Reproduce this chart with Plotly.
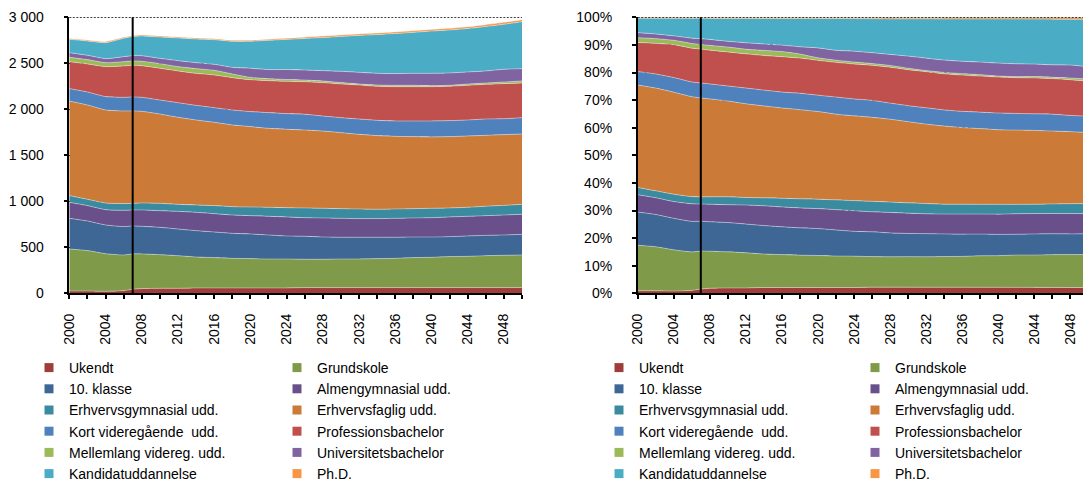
import plotly.graph_objects as go
from plotly.subplots import make_subplots

# years (every 2nd year, plus 2007 where the series kink)
years = [2000, 2002, 2004, 2006, 2007, 2008, 2010, 2012, 2014, 2016, 2018, 2020, 2022, 2024,
         2026, 2028, 2030, 2032, 2034, 2036, 2038, 2040, 2042, 2044, 2046, 2048, 2050]

# 1.000 personer per uddannelsesniveau
ukendt = [25, 25, 22, 29, 43, 51, 54, 54, 58, 58, 58, 58, 58, 58,
          62, 62, 62, 62, 62, 62, 62, 62, 62, 62, 62, 62, 62]
grundskole = [457, 439, 409, 388, 385, 377, 366, 355, 337, 330, 322, 319, 315, 315,
              308, 308, 311, 311, 315, 318, 326, 329, 337, 340, 347, 351, 355]
klasse10 = [333, 322, 312, 308, 304, 300, 297, 290, 286, 279, 272, 268, 261, 250,
            250, 242, 236, 236, 232, 229, 224, 221, 217, 221, 221, 221, 224]
almengym = [174, 167, 166, 177, 174, 178, 181, 192, 199, 199, 199, 199, 203, 207,
            202, 207, 206, 203, 203, 206, 207, 210, 214, 214, 214, 217, 218]
erhvgym = [73, 69, 73, 73, 72, 76, 80, 76, 80, 87, 91, 94, 98, 101,
           106, 105, 105, 105, 101, 102, 101, 102, 98, 98, 102, 105, 108]
erhvfaglig = [1028, 1025, 1011, 1007, 1004, 996, 971, 946, 924, 906, 888, 874, 858, 852,
              847, 840, 826, 811, 801, 789, 783, 775, 775, 775, 771, 769, 765]
kortvid = [135, 141, 145, 148, 152, 152, 152, 159, 159, 159, 163, 163, 171, 170,
           171, 163, 163, 167, 166, 167, 170, 174, 174, 174, 178, 173, 177]
profbach = [293, 305, 326, 341, 344, 344, 345, 345, 348, 355, 351, 347, 347, 351,
            354, 363, 366, 369, 370, 373, 373, 373, 373, 377, 377, 381, 377]
mellemlang = [47, 47, 43, 47, 47, 48, 50, 47, 51, 51, 40, 25, 22, 20,
              18, 18, 15, 11, 14, 15, 15, 11, 11, 14, 14, 18, 22]
univbach = [51, 47, 44, 54, 58, 61, 58, 65, 65, 65, 72, 99, 99, 108,
            109, 112, 123, 127, 127, 127, 130, 134, 134, 131, 131, 138, 134]
kandidat = [145, 156, 173, 200, 207, 214, 232, 246, 257, 268, 283, 294, 318, 328,
            343, 360, 379, 401, 421, 436, 445, 459, 467, 472, 483, 489, 510]
phd = [9, 10, 11, 10, 10, 11, 11, 11, 11, 11, 11, 11, 12, 13,
       14, 16, 16, 16, 17, 17, 18, 17, 18, 19, 20, 21, 22]

names = ["Ukendt", "Grundskole", "10. klasse", "Almengymnasial udd.",
         "Erhvervsgymnasial udd.", "Erhvervsfaglig udd.", "Kort videregående  udd.",
         "Professionsbachelor", "Mellemlang videreg. udd.", "Universitetsbachelor",
         "Kandidatuddannelse", "Ph.D."]
series = [ukendt, grundskole, klasse10, almengym, erhvgym, erhvfaglig, kortvid,
          profbach, mellemlang, univbach, kandidat, phd]
colors = ["#9E3D3A", "#7F9A48", "#3E6796", "#69508A", "#3A8BA0", "#CB7A37",
          "#4F81BD", "#C0504D", "#9BBB59", "#8064A2", "#4BACC6", "#F79646"]

split_year = 2007

W, H = 1083, 482
FONT = "Liberation Sans, Arial, sans-serif"

fig = make_subplots(rows=1, cols=2)

for i, (name, vals, col) in enumerate(zip(names, series, colors)):
    seam = dict(width=0.7, color="rgba(255,255,255,0.55)", shape="spline", smoothing=0.6)
    fig.add_trace(go.Scatter(x=years, y=vals, name=name, stackgroup="abs", fillcolor=col,
                             mode="lines", line=seam, showlegend=False, hoverinfo="skip"),
                  row=1, col=1)
    fig.add_trace(go.Scatter(x=years, y=vals, name=name, stackgroup="pct", groupnorm="percent",
                             fillcolor=col, mode="lines", line=seam, showlegend=False,
                             hoverinfo="skip"),
                  row=1, col=2)

# legend entries: two columns under each chart
for i, (name, col) in enumerate(zip(names, colors)):
    for side in (0, 1):
        leg = "legend" + ("" if side * 2 + i % 2 == 0 else str(side * 2 + i % 2 + 1))
        fig.add_trace(go.Scatter(x=[None], y=[None], name=name, mode="markers",
                                 marker=dict(symbol="square", size=9, color=col),
                                 legend=leg, showlegend=True),
                      row=1, col=side + 1)

dotted_top = dict(color="black", width=1.5, dash="2px,1.5px")
fig.add_hline(y=3000, line=dotted_top, row=1, col=1)
fig.add_hline(y=100, line=dotted_top, row=1, col=2)
fig.add_vline(x=split_year, line=dict(color="black", width=2), row=1, col=1)
fig.add_vline(x=split_year, line=dict(color="black", width=2), row=1, col=2)

tickfont = dict(family=FONT, size=14, color="black")
xcommon = dict(tick0=2000, dtick=4, tickangle=-90, showline=True, linecolor="black",
               linewidth=1.5, ticks="outside", ticklen=4, tickwidth=1.5, tickcolor="black",
               showgrid=False, zeroline=False, tickfont=tickfont, ticklabelstandoff=9,
               minor=dict(tick0=2000, dtick=2, ticks="outside", ticklen=4, tickwidth=1.5,
                          tickcolor="black", showgrid=False))
ycommon = dict(showline=True, linecolor="black", linewidth=1.5, ticks="outside", ticklen=4,
               tickwidth=1.5, tickcolor="black", showgrid=True, gridcolor="black",
               griddash="dot", gridwidth=1, zeroline=False, tickfont=tickfont,
               ticklabelstandoff=17)

ydom = [1 - 293.3 / H, 1 - 17.3 / H]
fig.update_xaxes(domain=[69.3 / W, 522 / W], range=[2000, 2050], **xcommon, row=1, col=1)
fig.update_xaxes(domain=[637.7 / W, 1.0], range=[2000, 2049.4], **xcommon, row=1, col=2)
fig.update_yaxes(domain=ydom, range=[0, 3000], dtick=500, tickformat=",d",
                 separatethousands=True, **ycommon, row=1, col=1)
fig.update_yaxes(domain=ydom, range=[0, 100], dtick=10, ticksuffix="%", **ycommon,
                 row=1, col=2)

legfont = dict(family=FONT, size=14, color="black")
leg_top = 1 - 352 / H
legbase = dict(orientation="v", y=leg_top, yanchor="top", xanchor="left", font=legfont,
               bgcolor="rgba(0,0,0,0)", borderwidth=0, traceorder="normal",
               itemclick=False, itemdoubleclick=False)

fig.update_layout(
    width=W, height=H,
    margin=dict(l=0, r=0, t=0, b=0, autoexpand=False),
    paper_bgcolor="white", plot_bgcolor="white",
    separators=", ",
    font=dict(family=FONT, size=14, color="black"),
    hovermode=False,
    legend=dict(x=29 / W, **legbase),
    legend2=dict(x=277 / W, **legbase),
    legend3=dict(x=599 / W, **legbase),
    legend4=dict(x=855 / W, **legbase),
)

# the page's default body margin would push the figure 8px off the window corner
fig.write_html("out.html", config={"displayModeBar": False},
               post_script="document.body.style.margin = '0';")
